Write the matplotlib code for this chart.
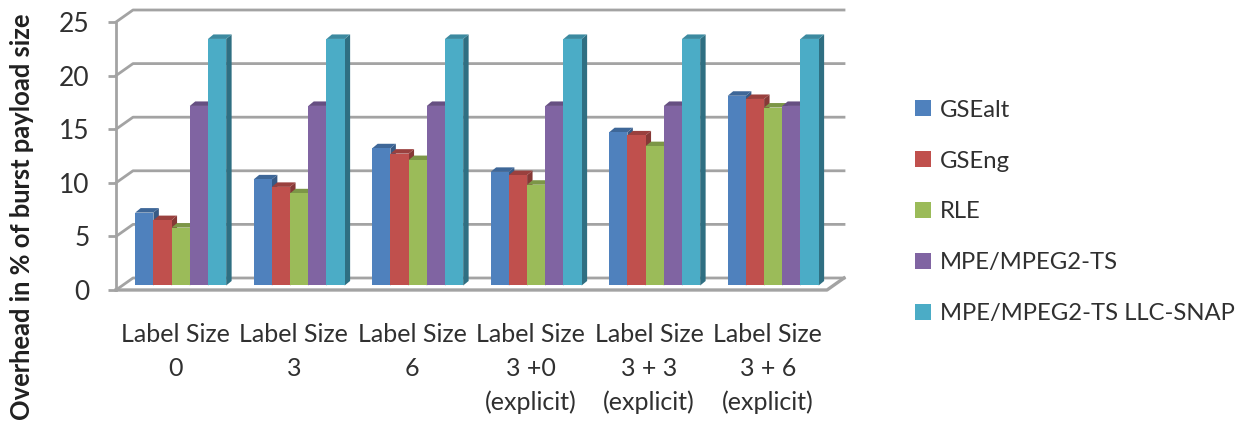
import matplotlib
matplotlib.use("Agg")
import matplotlib.pyplot as plt
from matplotlib.patches import Patch, Polygon

plt.rcParams["font.family"] = ["Lato", "DejaVu Sans"]

categories = ["Label Size\n0", "Label Size\n3", "Label Size\n6",
              "Label Size\n3 +0\n(explicit)", "Label Size\n3 + 3\n(explicit)",
              "Label Size\n3 + 6\n(explicit)"]
series_names = ["GSEalt", "GSEng", "RLE", "MPE/MPEG2-TS", "MPE/MPEG2-TS LLC-SNAP"]
gse_alt = [6.8, 9.9, 12.8, 10.6, 14.3, 17.7]
gse_eng = [6.1, 9.2, 12.3, 10.3, 14.0, 17.4]
rle = [5.4, 8.6, 11.7, 9.4, 13.0, 16.6]
mpe = [16.75, 16.75, 16.75, 16.75, 16.75, 16.75]
mpe_llc = [23.0, 23.0, 23.0, 23.0, 23.0, 23.0]
y_ticks = [0, 5, 10, 15, 20, 25]

front = ["#4F81BD", "#C0504D", "#9BBB59", "#8064A2", "#4BACC6"]
side = ["#375A85", "#863836", "#6D833E", "#5A4671", "#2F6F82"]
top = ["#3E6798", "#9A403E", "#7C9647", "#664F82", "#3C8AA0"]
GRID = "#A3A3A3"

W, H = 1243, 422
fig = plt.figure(figsize=(W / 100, H / 100), dpi=100)
# axes box is the front plane of the 3d-looking chart
ax = fig.add_axes([116 / W, 1 - 290 / H, (827 - 116) / W, (290 - 22) / H])
ax.set_xlim(-0.5, 5.5)
ax.set_ylim(0, 25)
for s in ax.spines.values():
    s.set_visible(False)

# depth of the walls and of the bars, in data units
wall_dx, wall_dy = 0.1435, 1.12
bar_dx, bar_dy = 0.046, 0.42
bar_w = 0.1535

# walls and floor
for v in y_ticks:
    ax.plot([-0.5, -0.5 + wall_dx, 5.5 + wall_dx], [v, v + wall_dy, v + wall_dy],
            color=GRID, lw=2, clip_on=False, zorder=1)
ax.plot([-0.5, -0.5], [0, 25], color=GRID, lw=2, clip_on=False, zorder=1)
ax.plot([-0.5, 5.5, 5.5 + wall_dx], [0, 0, wall_dy], color=GRID, lw=2.4,
        clip_on=False, zorder=1)

z = 3
all_series = [gse_alt, gse_eng, rle, mpe, mpe_llc]
for i in range(len(categories)):
    for j, vals in enumerate(all_series):
        v = vals[i]
        x0 = i + bar_dx + (j - 2.5) * bar_w
        x1 = x0 + bar_w
        base = bar_dy
        y1 = base + v
        ax.add_patch(Polygon([(x1, base), (x1 + bar_dx, base + bar_dy),
                              (x1 + bar_dx, y1 + bar_dy), (x1, y1)],
                             closed=True, fc=side[j], ec="none", clip_on=False, zorder=z))
        ax.add_patch(Polygon([(x0, y1), (x0 + bar_dx, y1 + bar_dy),
                              (x1 + bar_dx, y1 + bar_dy), (x1, y1)],
                             closed=True, fc=top[j], ec="none", clip_on=False, zorder=z))
        ax.bar(x0, v, width=bar_w, bottom=base, align="edge", color=front[j],
               clip_on=False, zorder=z + 0.5)
        z += 1

ax.set_yticks(y_ticks)
ax.set_xticks(range(len(categories)))
ax.set_xticklabels(categories, fontsize=18, color="#303030", linespacing=1.55)
ax.tick_params(axis="x", length=0, pad=24)
ax.tick_params(axis="y", length=6, width=2, color=GRID, labelsize=19,
               labelcolor="#303030", pad=13)

fig.text(22 / W, 1 - 217 / H, "Overhead in % of burst payload size", rotation=90,
         ha="center", va="center", fontsize=18.4, fontweight="bold", color="#202020")

handles = [Patch(fc=c, ec="none", label=n) for c, n in zip(front, series_names)]
fig.legend(handles=handles, loc="center left", bbox_to_anchor=(915 / W, 1 - 212 / H),
           frameon=False, fontsize=17.2, labelcolor="#303030", labelspacing=1.25,
           handlelength=0.65, handleheight=0.65, handletextpad=0.4, borderpad=0,
           borderaxespad=0)

fig.savefig("out.png", dpi=100)
